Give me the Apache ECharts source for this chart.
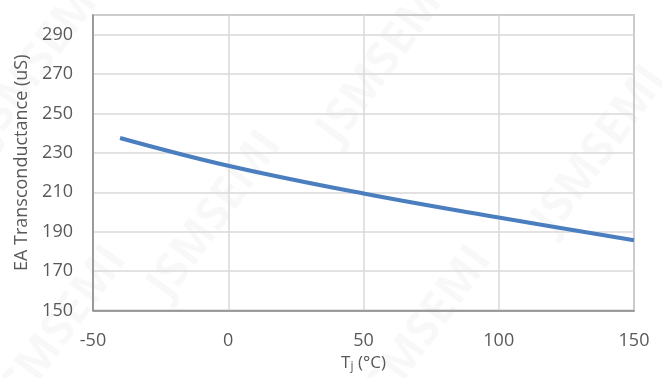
<!DOCTYPE html>
<html>
<head>
<meta charset="utf-8">
<script src="https://cdn.jsdelivr.net/npm/echarts@6/dist/echarts.min.js"></script>
<style>
  html, body { margin: 0; padding: 0; background: #fff; }
  #chart { width: 662px; height: 378px; }
</style>
</head>
<body>
<div id="chart"></div>
<script>
// Junction temperature (°C) and EA transconductance (uS)
const temps = [-40, 0, 50, 100, 150];
const gm = [237.6, 223.5, 209.4, 197.2, 185.7];

const xTicks = { min: -50, max: 150, step: 50 };
const yTicks = { min: 150, max: 300, step: 20 };

const font = '"Open Sans", "Liberation Sans", sans-serif';
const textColor = '#595959';

const chart = echarts.init(document.getElementById('chart'), null, { renderer: 'canvas' });

// faint diagonal brand marks in the background
const marks = [
  [215, 215], [425, 330], [600, 150], [60, 330], [385, 60], [40, 60]
].map(([x, y]) => ({
  type: 'text',
  x: x, y: y,
  rotation: Math.PI * 0.3,
  z: 0,
  style: {
    text: 'JSMSEMI',
    font: 'bold 46px ' + font,
    fill: 'rgba(0,0,0,0.028)',
    align: 'center',
    verticalAlign: 'middle'
  }
}));

chart.setOption({
  animation: false,
  graphic: marks,
  grid: {
    left: 93, top: 15, right: 28, bottom: 61,
    show: true,
    borderColor: '#8a8a8a',
    borderWidth: 1.5,
    backgroundColor: 'transparent'
  },
  xAxis: {
    type: 'value',
    min: xTicks.min, max: xTicks.max, interval: xTicks.step,
    name: '{t|T}{s|j}{t| (°C)}',
    nameLocation: 'middle',
    nameGap: 32,
    nameTextStyle: {
      rich: {
        t: { fontFamily: font, fontSize: 17, color: textColor },
        s: { fontFamily: font, fontSize: 12, color: textColor, verticalAlign: 'bottom', padding: [8, 0, 0, 0] }
      }
    },
    axisLine: { show: true, onZero: false, lineStyle: { color: '#8a8a8a', width: 1.5 } },
    axisTick: { show: false },
    axisLabel: { fontFamily: font, fontSize: 18, color: textColor, margin: 21 },
    splitLine: { show: true, lineStyle: { color: '#d9d9d9', width: 1.5 } }
  },
  yAxis: {
    type: 'value',
    min: yTicks.min, max: yTicks.max, interval: yTicks.step,
    name: 'EA Transconductance (uS)',
    nameLocation: 'middle',
    nameGap: 59,
    nameTextStyle: { fontFamily: font, fontSize: 18, color: textColor },
    axisLine: { show: true, onZero: false, lineStyle: { color: '#8a8a8a', width: 1.5 } },
    axisTick: { show: false },
    axisLabel: { fontFamily: font, fontSize: 18, color: textColor, margin: 20, showMaxLabel: false },
    splitLine: { show: true, lineStyle: { color: '#d9d9d9', width: 1.5 } }
  },
  series: [{
    type: 'line',
    data: temps.map((t, i) => [t, gm[i]]),
    smooth: 0.4,
    showSymbol: false,
    lineStyle: { color: '#4a7ebf', width: 4 },
    z: 5
  }]
});
</script>
</body>
</html>
